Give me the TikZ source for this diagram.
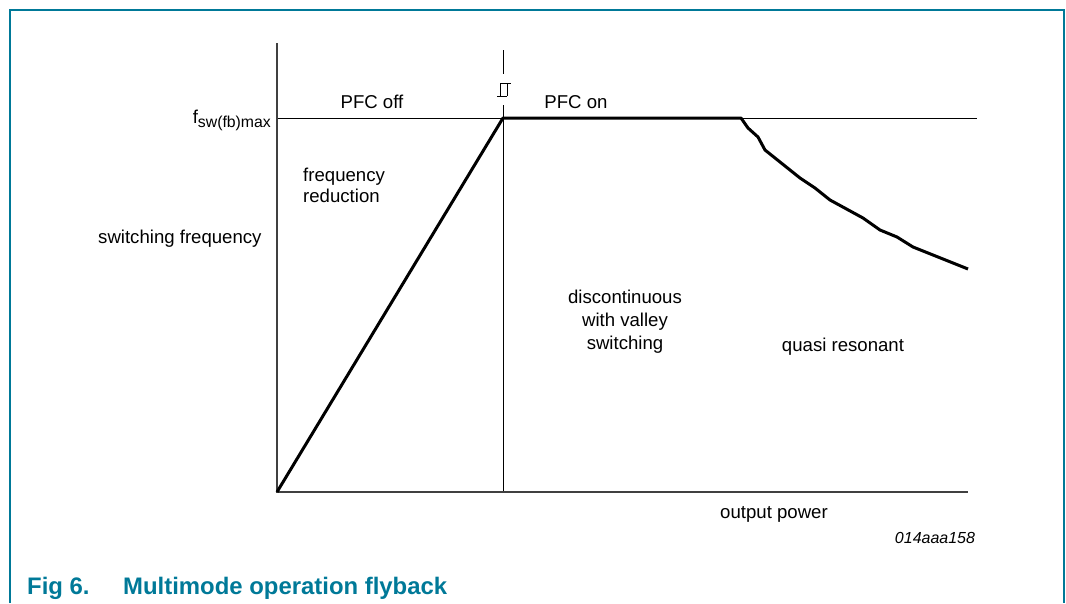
\documentclass[tikz,border=0pt]{standalone}
\usepackage{fontspec}
\setmainfont{Liberation Sans}
\definecolor{nxpteal}{RGB}{0,121,152}
\definecolor{axisgrey}{RGB}{64,64,64}
\newcommand{\lbl}{\fontsize{18.6}{23}\selectfont}

\begin{document}
\begin{tikzpicture}[x=1pt,y=-1pt,
    txt/.style={inner sep=0pt,font=\lbl},
    axis/.style={draw=axisgrey,line width=2pt},
    thin/.style={draw=black,line width=1pt},
    curve/.style={draw=black,line width=3pt,line join=round}]
          \useasboundingbox (0,0) rectangle (1066,603);
          \draw[nxpteal,line width=1.5pt] (10,603) -- (10,10) -- (1064,10) -- (1064,603);

          \coordinate (o) at (277,492);
          \coordinate (ytop) at (277,43);
          \coordinate (xend) at (968,492);
          \coordinate (fl) at (277,118);
          \coordinate (fr) at (977,118);
          \coordinate (k) at (503,118);
          \coordinate (b) at (741,118);
          \coordinate (st) at (503,50);
          \coordinate (sm) at (503,74);
          \coordinate (sb) at (503,105);
          \coordinate (sx) at (503,492);

          \draw[thin] (fl) -- (fr);
          \draw[thin] (st) -- (sm);
          \draw[thin] (sb) -- (sx);
          \draw[line width=1pt] (497,96) -- (507,96)
                (500,96) -- (500,83) -- (511,83) (507,83) -- (507,96);
          \draw[axis] (ytop) -- (o) -- (xend);

          \draw[curve] (o) -- (k) -- (b)
                -- (748,128) -- (758,137) -- (765,150) -- (800,178)
                -- (815,188) -- (830,200) -- (863,218) -- (880,230)
                -- (897,237) -- (913,247) -- (968,269);

          \node[txt,anchor=base east] (fmax) at (271,123)
                {f\raisebox{-4pt}{\fontsize{15.8}{16}\selectfont sw(fb)max}};
          \node[txt,anchor=base] (off) at (372,108) {PFC off};
          \node[txt,anchor=base] (on) at (576,108) {PFC on};
          \node[txt,anchor=west,align=left,
                font=\fontsize{18.6}{21}\selectfont] (red) at (303,185)
                {frequency\\reduction};
          \node[txt,anchor=base west] (yl) at (98,243) {switching frequency};
          \node[txt,align=center] (dcm) at (625,322)
                {discontinuous\\with valley\\switching};
          \node[txt,anchor=base] (qr) at (843,351) {quasi resonant};
          \node[txt,anchor=base] (xl) at (774,518) {output power};
          \node[inner sep=0pt,anchor=base,font=\fontsize{16}{18}\selectfont\itshape]
                (id) at (935,543) {014aaa158};
          \node[inner sep=0pt,anchor=base west,text=nxpteal,
                font=\fontsize{23.9}{28}\selectfont\bfseries] (fig) at (27,594) {Fig 6.};
          \node[inner sep=0pt,anchor=base west,text=nxpteal,
                font=\fontsize{23.9}{28}\selectfont\bfseries] (cap) at (123,594)
                {Multimode operation flyback};
      \end{tikzpicture}
\end{document}
